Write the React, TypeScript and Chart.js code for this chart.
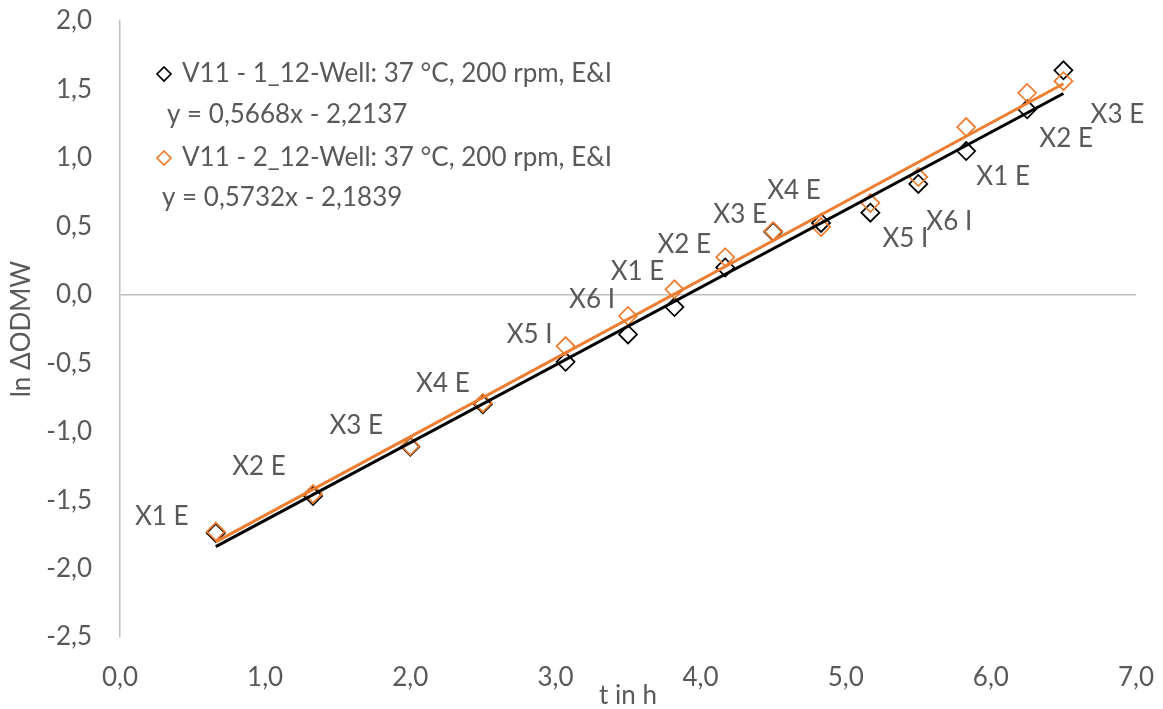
import React, { useEffect, useRef } from 'react';
import { Chart, registerables } from 'chart.js';

Chart.register(...registerables);

// Sampling times (h) shared by both wells
const timeH = [0.66, 1.33, 2.0, 2.5, 3.07, 3.5, 3.82, 4.17, 4.5, 4.83, 5.17, 5.5, 5.83, 6.25, 6.5];

// ln ΔODMW per well
const lnOdmwWell1 = [-1.74, -1.47, -1.11, -0.8, -0.49, -0.29, -0.09, 0.2, 0.46, 0.525, 0.6, 0.81, 1.05, 1.355, 1.64];
const lnOdmwWell2 = [-1.73, -1.455, -1.105, -0.79, -0.375, -0.155, 0.04, 0.275, 0.465, 0.495, 0.67, 0.86, 1.225, 1.475, 1.56];

// Sample annotations written next to each point
const sampleLabels = ['X1 E', 'X2 E', 'X3 E', 'X4 E', 'X5 I', 'X6 I', 'X1 E', 'X2 E', 'X3 E', 'X4 E', 'X5 I', 'X6 I', 'X1 E', 'X2 E', 'X3 E'];

const seriesNames = ['V11 - 1_12-Well: 37 °C, 200 rpm, E&I', 'V11 - 2_12-Well: 37 °C, 200 rpm, E&I'];

// Linear fit coefficients (y = slope * x + intercept)
const fitSlopes = [0.5668, 0.5732];
const fitIntercepts = [-2.2137, -2.1839];

const xAxisRange = [0, 7];
const yAxisRange = [-2.5, 2];

// ---- styling ----
const FONT = 'Lato, Carlito, Calibri, sans-serif';
const TEXT = '#595959';
const AXIS = '#BFBFBF';
const CLEAR = 'rgba(0,0,0,0)';
const SERIES_COLORS = ['#000000', '#ED7D31'];
const FONT_SIZE = 26;

// label offsets in px relative to the annotated point
const labelOffsets: [number, number][] = [
  [-54, -15], [-54, -27], [-54, -20], [-40, -19], [-36, -12], [-36, -16], [-37, -18],
  [-41, -13], [-33, -17], [-27, -36], [35, 36], [31, 45], [37, 50], [39, 46], [54, 33],
];

const fmt = (v: number, d: number) => v.toFixed(d).replace('.', ',');

const equationText = (i: number) => {
  const b = fitIntercepts[i];
  return `y = ${fmt(fitSlopes[i], 4)}x ${b < 0 ? '-' : '+'} ${fmt(Math.abs(b), 4)}`;
};

const drawDiamond = (ctx: CanvasRenderingContext2D, x: number, y: number, r: number, color: string) => {
  ctx.beginPath();
  ctx.moveTo(x, y - r);
  ctx.lineTo(x + r, y);
  ctx.lineTo(x, y + r);
  ctx.lineTo(x - r, y);
  ctx.closePath();
  ctx.strokeStyle = color;
  ctx.lineWidth = 1.75;
  ctx.stroke();
};

const sampleLabelPlugin = {
  id: 'sampleLabels',
  afterDatasetsDraw(chart: any) {
    const meta = chart.getDatasetMeta(1);
    const ctx: CanvasRenderingContext2D = chart.ctx;
    ctx.save();
    ctx.font = `${FONT_SIZE}px ${FONT}`;
    ctx.fillStyle = TEXT;
    ctx.textAlign = 'center';
    ctx.textBaseline = 'middle';
    meta.data.forEach((pt: any, i: number) => {
      const [dx, dy] = labelOffsets[i];
      ctx.fillText(sampleLabels[i], pt.x + dx, pt.y + dy);
    });
    ctx.restore();
  },
};

const fitLegendPlugin = {
  id: 'fitLegend',
  afterDraw(chart: any) {
    const ctx: CanvasRenderingContext2D = chart.ctx;
    const rows = [
      { marker: [164, 74], name: [182, 74], eq: [167, 115] },
      { marker: [164, 158], name: [182, 158], eq: [162, 198] },
    ];
    ctx.save();
    ctx.font = `${FONT_SIZE}px ${FONT}`;
    ctx.fillStyle = TEXT;
    ctx.textAlign = 'left';
    ctx.textBaseline = 'middle';
    rows.forEach((row, i) => {
      drawDiamond(ctx, row.marker[0], row.marker[1], 7, SERIES_COLORS[i]);
      ctx.fillText(seriesNames[i], row.name[0], row.name[1]);
      ctx.fillText(equationText(i), row.eq[0], row.eq[1]);
    });
    ctx.restore();
  },
};

function ScatterFitChart() {
  const canvasRef = useRef<HTMLCanvasElement | null>(null);

  useEffect(() => {
    if (!canvasRef.current) return;
    const xMin = Math.min(...timeH);
    const xMax = Math.max(...timeH);
    const fitLine = (i: number) => [
      { x: xMin, y: fitSlopes[i] * xMin + fitIntercepts[i] },
      { x: xMax, y: fitSlopes[i] * xMax + fitIntercepts[i] },
    ];
    const points = (ys: number[]) => timeH.map((x, i) => ({ x, y: ys[i] }));

    const chart = new Chart(canvasRef.current, {
      type: 'scatter',
      data: {
        datasets: [
          {
            label: seriesNames[0],
            data: points(lnOdmwWell1),
            pointStyle: 'rectRot',
            pointRadius: 9,
            pointBorderWidth: 1.75,
            borderColor: SERIES_COLORS[0],
            backgroundColor: CLEAR,
            order: 3,
          },
          {
            label: seriesNames[1],
            data: points(lnOdmwWell2),
            pointStyle: 'rectRot',
            pointRadius: 9,
            pointBorderWidth: 1.75,
            borderColor: SERIES_COLORS[1],
            backgroundColor: CLEAR,
            order: 2,
          },
          {
            label: 'fit 1',
            data: fitLine(0),
            showLine: true,
            pointRadius: 0,
            borderColor: SERIES_COLORS[0],
            borderWidth: 3,
            order: 1,
          },
          {
            label: 'fit 2',
            data: fitLine(1),
            showLine: true,
            pointRadius: 0,
            borderColor: SERIES_COLORS[1],
            borderWidth: 3,
            order: 0,
          },
        ],
      },
      options: {
        animation: false,
        responsive: false,
        devicePixelRatio: 1,
        layout: { padding: { top: 21, right: 27, bottom: 0, left: 0 } },
        plugins: {
          legend: { display: false },
          tooltip: { enabled: false },
        },
        scales: {
          x: {
            type: 'linear',
            min: xAxisRange[0],
            max: xAxisRange[1],
            grid: { display: true, drawOnChartArea: false, drawTicks: true, tickLength: 25, color: CLEAR, tickColor: CLEAR },
            border: { display: false },
            ticks: {
              stepSize: 1,
              padding: 0,
              color: TEXT,
              font: { family: FONT, size: FONT_SIZE },
              callback: (v: any) => fmt(Number(v), 1),
            },
            title: {
              display: true,
              text: 't in h',
              color: TEXT,
              font: { family: FONT, size: FONT_SIZE, lineHeight: 1 },
              padding: { top: 0, bottom: 0 },
            },
            afterFit: (scale: any) => {
              scale.height = 72;
            },
          },
          y: {
            type: 'linear',
            min: yAxisRange[0],
            max: yAxisRange[1],
            grid: {
              drawTicks: true,
              tickLength: 28,
              tickColor: CLEAR,
              lineWidth: 1.5,
              color: (c: any) => (c.tick && c.tick.value === 0 ? AXIS : CLEAR),
            },
            border: { display: true, color: AXIS, width: 1.5 },
            ticks: {
              stepSize: 0.5,
              padding: 0,
              color: TEXT,
              font: { family: FONT, size: FONT_SIZE },
              callback: (v: any) => fmt(Number(v), 1),
            },
            title: {
              display: true,
              text: 'ln ΔODMW',
              color: TEXT,
              font: { family: FONT, size: FONT_SIZE },
              padding: { top: 6, bottom: 0 },
            },
            afterFit: (scale: any) => {
              scale.width = 120;
            },
          },
        },
      },
      plugins: [sampleLabelPlugin, fitLegendPlugin],
    });

    return () => chart.destroy();
  }, []);

  return <canvas ref={canvasRef} width={1163} height={709} />;
}

export default function App() {
  return (
    <div style={{ position: 'absolute', left: 0, top: 0, width: 1163, height: 709, background: '#ffffff' }}>
      <ScatterFitChart />
    </div>
  );
}
